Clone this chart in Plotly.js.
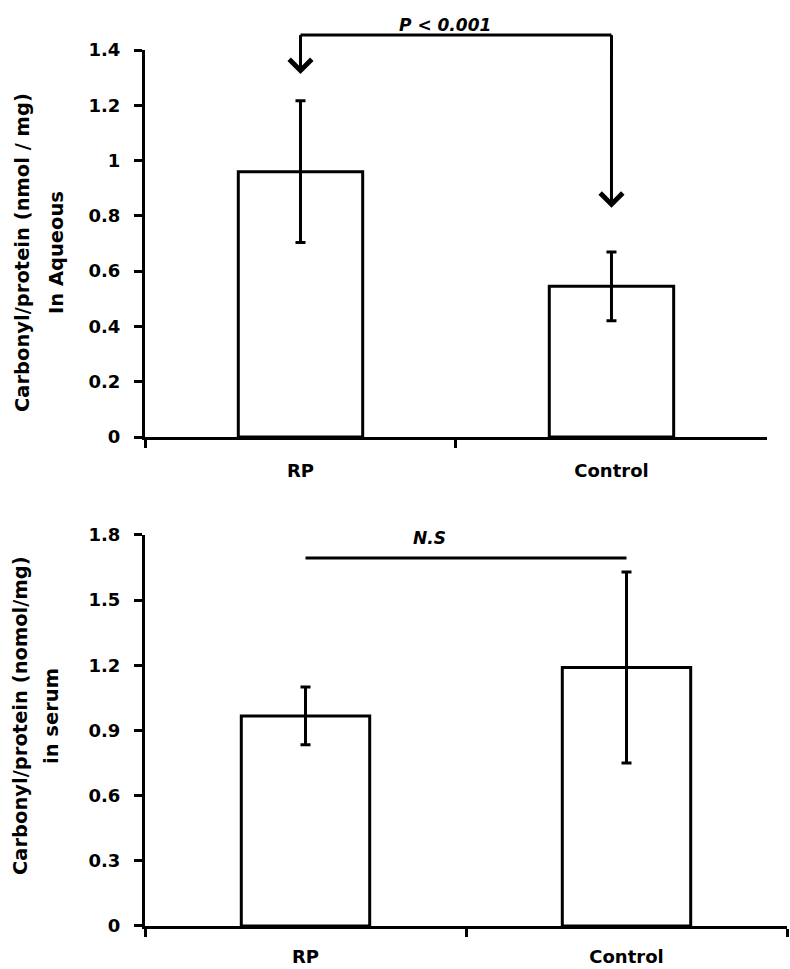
<!DOCTYPE html>
<html>
<head>
<meta charset="utf-8">
<script src="https://cdn.plot.ly/plotly-3.0.1.min.js"></script>
<style>html,body{margin:0;padding:0;background:#fff;}</style>
</head>
<body>
<div id="chart" style="width:790px;height:969px;"></div>
<script>
// ---- data ----
const categories = ["RP", "Control"];
const aqueousMean = [0.96, 0.545];
const aqueousErr = [0.256, 0.124];
const serumMean = [0.967, 1.19];
const serumErr = [0.133, 0.44];
const aqueousTicks = [0, 0.2, 0.4, 0.6, 0.8, 1, 1.2, 1.4];
const serumTicks = [0, 0.3, 0.6, 0.9, 1.2, 1.5, 1.8];
const aqueousTitle = ["Carbonyl/protein (nmol / mg)", "In Aqueous"];
const serumTitle = ["Carbonyl/protein (nomol/mg)", "in serum"];
const aqueousStat = "P < 0.001";
const serumStat = "N.S";

const FONT = "DejaVu Sans, Open Sans, sans-serif";
const black = "#000";

// layout geometry
const W = 790, H = 969, ML = 145, MR = 3;
const topX = [0, 0.9688], topY = [0.549, 0.9484], topRange = [0, 1.4];
const botX = [0, 1], botY = [0.0444, 0.4479], botRange = [0, 1.8];

// helpers: data -> paper coordinates
function px(dom, i) { return dom[0] + (dom[1] - dom[0]) * (i + 0.5) / categories.length; }
function py(dom, rng, v) { return dom[0] + (dom[1] - dom[0]) * (v - rng[0]) / (rng[1] - rng[0]); }

function barTrace(y, err, xa, ya) {
  return {
    type: "bar", x: categories, y: y, xaxis: xa, yaxis: ya,
    marker: {color: "#fff", line: {color: black, width: 3}},
    error_y: {type: "data", array: err, visible: true, color: black, thickness: 3, width: 5},
    width: 0.4, hoverinfo: "skip", showlegend: false
  };
}

const tickFont = {family: FONT, size: 18, color: black, weight: "bold"};
const yAxisCommon = {
  showline: true, linecolor: black, linewidth: 3, ticks: "outside", ticklen: 8,
  tickwidth: 3, tickcolor: black, showgrid: false, zeroline: false,
  tickfont: tickFont, ticklabelstandoff: 10, fixedrange: true
};
const xAxisCommon = {
  type: "category", showline: true, linecolor: black, linewidth: 3, ticks: "outside",
  tickson: "boundaries", ticklen: 8, tickwidth: 3, tickcolor: black, showgrid: false,
  tickfont: tickFont, fixedrange: true
};

const data = [
  barTrace(aqueousMean, aqueousErr, "x", "y"),
  barTrace(serumMean, serumErr, "x2", "y2")
];

const bracketTop = 1.454, tipRP = 1.313, tipCtl = 0.829, nsLine = 1.694;
const statFont = {family: FONT, size: 17, color: black, weight: "bold"};
const titleFont = {family: FONT, size: 19.5, color: black, weight: "bold"};
const pw = W - ML - MR;

function titleAnn(text, xPix, yPix) {
  return {xref: "paper", yref: "paper", x: (xPix - ML) / pw, y: (H - yPix) / H, showarrow: false,
    textangle: -90, text: text, font: titleFont, xanchor: "center", yanchor: "middle"};
}

const layout = {
  width: W, height: H,
  margin: {l: ML, r: MR, t: 0, b: 0},
  paper_bgcolor: "#fff", plot_bgcolor: "#fff",
  xaxis: Object.assign({}, xAxisCommon, {domain: topX, anchor: "y", ticklabelstandoff: 15}),
  yaxis: Object.assign({}, yAxisCommon, {domain: topY, range: topRange, tickvals: aqueousTicks, anchor: "x"}),
  xaxis2: Object.assign({}, xAxisCommon, {domain: botX, anchor: "y2", ticklabelstandoff: 12}),
  yaxis2: Object.assign({}, yAxisCommon, {domain: botY, range: botRange, tickvals: serumTicks, anchor: "x2"}),
  shapes: [
    {type: "line", xref: "paper", yref: "paper",
     x0: px(topX, 0), x1: px(topX, 1),
     y0: py(topY, topRange, bracketTop), y1: py(topY, topRange, bracketTop),
     line: {color: black, width: 3}},
    {type: "line", xref: "paper", yref: "paper",
     x0: px(topX, 0), x1: px(topX, 0),
     y0: py(topY, topRange, bracketTop), y1: py(topY, topRange, 1.38),
     line: {color: black, width: 3}},
    {type: "line", xref: "paper", yref: "paper",
     x0: px(topX, 1), x1: px(topX, 1),
     y0: py(topY, topRange, bracketTop), y1: py(topY, topRange, 1.38),
     line: {color: black, width: 3}},
    {type: "line", xref: "paper", yref: "paper",
     x0: px(botX, 0), x1: px(botX, 1),
     y0: py(botY, botRange, nsLine), y1: py(botY, botRange, nsLine),
     line: {color: black, width: 3}}
  ],
  annotations: [
    {xref: "x", yref: "y", axref: "x", ayref: "y", x: 0, y: tipRP, ax: 0, ay: 1.39,
     showarrow: true, arrowhead: 4, arrowsize: 1.45, arrowwidth: 3, arrowcolor: black, text: "", standoff: 0},
    {xref: "x", yref: "y", axref: "x", ayref: "y", x: 1, y: tipCtl, ax: 1, ay: 1.39,
     showarrow: true, arrowhead: 4, arrowsize: 1.45, arrowwidth: 3, arrowcolor: black, text: "", standoff: 0},
    {xref: "paper", yref: "paper", x: (445 - ML) / pw, y: (H - 13) / H, showarrow: false,
     text: "<i>" + aqueousStat + "</i>", font: statFont},
    {xref: "paper", yref: "paper", x: (429 - ML) / pw, y: (H - 538) / H, showarrow: false,
     text: "<i>" + serumStat + "</i>", font: statFont},
    titleAnn(aqueousTitle[0], 22, 253),
    titleAnn(aqueousTitle[1], 56, 253),
    titleAnn(serumTitle[0], 20, 716),
    titleAnn(serumTitle[1], 51, 716)
  ]
};

Plotly.newPlot("chart", data, layout, {displayModeBar: false, staticPlot: true});
</script>
</body>
</html>
